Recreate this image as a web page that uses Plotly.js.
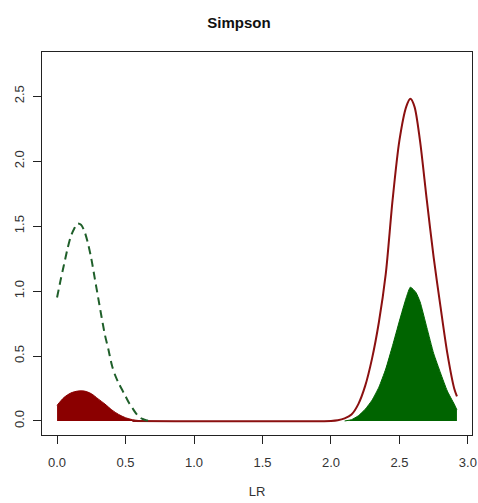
<!DOCTYPE html>
<html>
<head>
<meta charset="utf-8">
<script src="https://cdn.plot.ly/plotly-3.0.1.min.js"></script>
<style>html,body{margin:0;padding:0;background:#fff;}#chart{width:478px;height:503px;}</style>
</head>
<body>
<div id="chart"></div>
<script>
// Dashed green density (left)
const dashX = [0, 0.025, 0.05, 0.075, 0.1, 0.125, 0.15, 0.175, 0.2, 0.225, 0.25, 0.275, 0.3, 0.325, 0.35, 0.375, 0.4, 0.425, 0.45, 0.475, 0.5, 0.525, 0.55, 0.575, 0.6, 0.625, 0.65, 0.7];
const dashY = [0.95, 1.08, 1.20, 1.32, 1.42, 1.48, 1.52, 1.51, 1.46, 1.37, 1.25, 1.10, 0.95, 0.80, 0.66, 0.55, 0.43, 0.35, 0.29, 0.24, 0.19, 0.14, 0.10, 0.06, 0.03, 0.015, 0.005, 0];

// Dark red filled density (left)
const redFillX = [0, 0.05, 0.1, 0.15, 0.2, 0.25, 0.3, 0.35, 0.4, 0.45, 0.5, 0.55, 0.6, 0.65];
const redFillY = [0.12, 0.18, 0.215, 0.23, 0.23, 0.21, 0.17, 0.13, 0.085, 0.05, 0.025, 0.01, 0.003, 0];

// Dark red line density (right)
const redLineX = [0.55, 2.0, 2.05, 2.1, 2.15, 2.2, 2.25, 2.3, 2.35, 2.4, 2.45, 2.5, 2.55, 2.58, 2.61, 2.65, 2.7, 2.75, 2.8, 2.85, 2.9, 2.92];
const redLineY = [0, 0, 0.005, 0.02, 0.05, 0.13, 0.27, 0.48, 0.76, 1.13, 1.70, 2.16, 2.42, 2.48, 2.42, 2.16, 1.70, 1.26, 0.88, 0.52, 0.25, 0.19];

// Green filled density (right)
const greenFillX = [2.1, 2.15, 2.2, 2.25, 2.3, 2.35, 2.4, 2.45, 2.5, 2.55, 2.58, 2.62, 2.65, 2.7, 2.75, 2.8, 2.85, 2.9, 2.92];
const greenFillY = [0, 0.01, 0.04, 0.09, 0.16, 0.26, 0.40, 0.58, 0.77, 0.95, 1.03, 0.99, 0.92, 0.72, 0.52, 0.37, 0.23, 0.13, 0.085];

const tickVals = [0, 0.5, 1.0, 1.5, 2.0, 2.5, 3.0];
const tickText = ["0.0", "0.5", "1.0", "1.5", "2.0", "2.5", "3.0"];
const yTickVals = [0, 0.5, 1.0, 1.5, 2.0, 2.5];
const yTickText = ["0.0", "0.5", "1.0", "1.5", "2.0", "2.5"];

const traces = [
  {x: redFillX, y: redFillY, type: 'scatter', mode: 'lines', fill: 'tozeroy',
   fillcolor: '#8B0000', line: {color: '#8B0000', width: 1, shape: 'spline', smoothing: 0.8}, hoverinfo: 'skip'},
  {x: greenFillX, y: greenFillY, type: 'scatter', mode: 'lines', fill: 'tozeroy',
   fillcolor: '#006400', line: {color: '#006400', width: 1, shape: 'spline', smoothing: 0.5}, hoverinfo: 'skip'},
  {x: redLineX, y: redLineY, type: 'scatter', mode: 'lines',
   line: {color: '#8B1010', width: 2, shape: 'spline', smoothing: 0.8}, hoverinfo: 'skip'},
  {x: dashX, y: dashY, type: 'scatter', mode: 'lines',
   line: {color: '#1f5f2a', width: 2, dash: '8px,5px', shape: 'spline', smoothing: 0.8}, hoverinfo: 'skip'}
];

const axisCommon = {
  showline: true, mirror: true, linecolor: '#222', linewidth: 1,
  ticks: 'outside', ticklen: 8, tickcolor: '#222', tickwidth: 1,
  showgrid: false, zeroline: false,
  tickfont: {family: 'Liberation Sans, Arial, sans-serif', size: 13, color: '#333'}
};

const layout = {
  width: 478, height: 503,
  margin: {l: 42, r: 6, t: 52, b: 68},
  paper_bgcolor: '#fff', plot_bgcolor: '#fff',
  showlegend: false,
  title: {text: '<b>Simpson</b>', x: 0.5, xanchor: 'center', y: 0.955, yanchor: 'middle',
          font: {family: 'Liberation Sans, Arial, sans-serif', size: 15, color: '#111'}},
  xaxis: Object.assign({}, axisCommon, {
    range: [-0.11, 3.03], tickvals: tickVals, ticktext: tickText,
    ticklabelstandoff: 7,
    title: {text: 'LR', standoff: 18, font: {family: 'Liberation Sans, Arial, sans-serif', size: 13, color: '#333'}}
  }),
  yaxis: Object.assign({}, axisCommon, {
    range: [-0.108, 2.84], tickvals: yTickVals, ticktext: yTickText, tickangle: -90,
    ticklabelstandoff: 4
  })
};

Plotly.newPlot('chart', traces, layout, {staticPlot: true, displayModeBar: false});
</script>
</body>
</html>
